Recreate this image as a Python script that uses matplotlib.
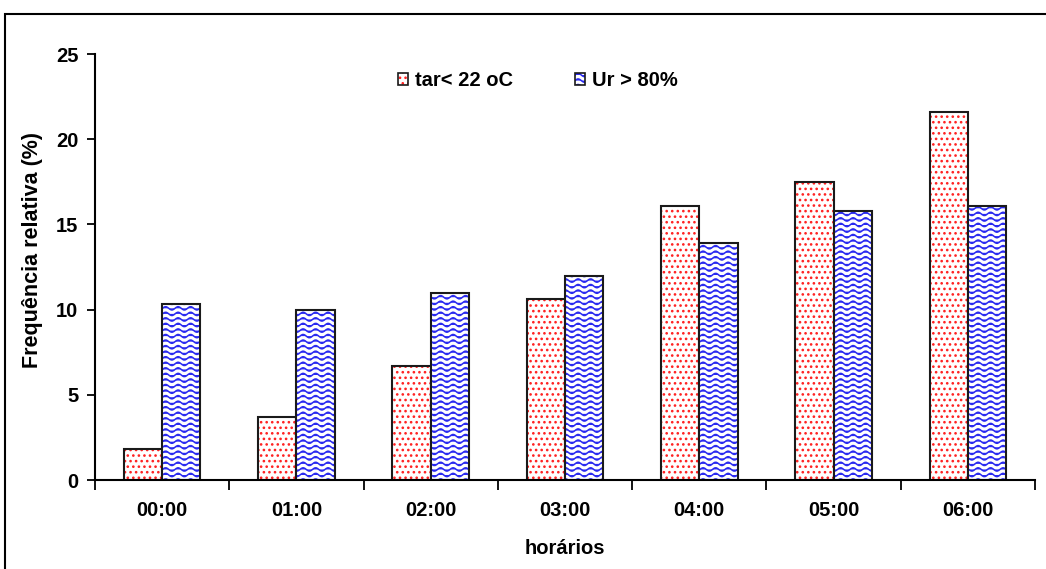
import warnings

import numpy as np
import matplotlib
matplotlib.use('Agg')
import matplotlib.pyplot as plt
import matplotlib.hatch as mhatch
from matplotlib.patches import Patch, Rectangle

# Data
horarios = ['00:00', '01:00', '02:00', '03:00', '04:00', '05:00', '06:00']
tar_abaixo_22 = [1.8, 3.7, 6.7, 10.6, 16.1, 17.5, 21.6]
ur_acima_80 = [10.3, 10.0, 11.0, 12.0, 13.9, 15.8, 16.1]
serie_labels = ['tar< 22 oC', 'Ur > 80%']


class WaveHatch(mhatch.HatchPatternBase):
    """Horizontal wavy lines, selected with '~' in the hatch string."""

    def __init__(self, hatch, density):
        self.num_rows = hatch.count('~') * density
        self.periods = 8
        self.steps = self.periods * 10
        self.num_vertices = self.num_rows * (self.steps + 1)

    def set_vertices_and_codes(self, vertices, codes):
        xs = np.linspace(0.0, 1.0, self.steps + 1)
        amp = 0.3 / self.num_rows
        n = self.steps + 1
        for i in range(self.num_rows):
            y0 = (i + 0.5) / self.num_rows
            vertices[i * n:(i + 1) * n, 0] = xs
            vertices[i * n:(i + 1) * n, 1] = y0 + amp * np.sin(2 * np.pi * self.periods * xs)
            codes[i * n] = matplotlib.path.Path.MOVETO
            codes[i * n + 1:(i + 1) * n] = matplotlib.path.Path.LINETO


mhatch._hatch_types.append(WaveHatch)
warnings.filterwarnings('ignore')

plt.rcParams['font.family'] = ['Liberation Sans', 'DejaVu Sans']
plt.rcParams['font.weight'] = 'bold'
plt.rcParams['hatch.linewidth'] = 1.1

fig = plt.figure(figsize=(10.46, 5.69), dpi=100)
ax = fig.add_axes([95 / 1046, 89 / 569, 940 / 1046, 426 / 569])

x = np.arange(len(horarios))
w = 0.285

# Hatched fills first, black outlines on top
ax.bar(x - w / 2, tar_abaixo_22, w, color='white', edgecolor='#ff2020',
       hatch='...', linewidth=0)
ax.bar(x - w / 2, tar_abaixo_22, w, fill=False, edgecolor='#1a1a1a', linewidth=1.5)
ax.bar(x + w / 2, ur_acima_80, w, color='white', edgecolor='#2a2af0',
       hatch='~~~', linewidth=0)
ax.bar(x + w / 2, ur_acima_80, w, fill=False, edgecolor='#1a1a1a', linewidth=1.5)

# Axes styling
ax.set_xlim(-0.5, len(horarios) - 0.5)
ax.set_ylim(0, 25)
ax.set_yticks(range(0, 26, 5))
ax.set_xticks(x)
ax.set_xticklabels(horarios)
ax.set_xticks(np.arange(-0.5, len(horarios), 1), minor=True)
ax.tick_params(axis='x', which='major', length=0, pad=15, labelsize=14.5)
ax.tick_params(axis='x', which='minor', length=7, width=1.3, direction='out')
ax.tick_params(axis='y', length=6, width=1.3, direction='out', pad=6, labelsize=14.5)

for side in ['top', 'right']:
    ax.spines[side].set_visible(False)
for side in ['left', 'bottom']:
    ax.spines[side].set_linewidth(1.5)

ax.set_xlabel('horários', fontsize=14.5, fontweight='bold', labelpad=14)
ax.set_ylabel('Frequência relativa (%)', fontsize=15.5, fontweight='bold')
ax.yaxis.set_label_coords(-0.055, 0.54)

# Legend
handles = [
    (Patch(facecolor='white', edgecolor='#ff2020', hatch='...', linewidth=0),
     Patch(fill=False, edgecolor='#1a1a1a', linewidth=1.2)),
    (Patch(facecolor='white', edgecolor='#2a2af0', hatch='~~~', linewidth=0),
     Patch(fill=False, edgecolor='#1a1a1a', linewidth=1.2)),
]
ax.legend(handles, serie_labels, loc='center left', bbox_to_anchor=(0.322, 0.937),
          ncol=2, frameon=False, prop={'weight': 'bold', 'size': 14.5},
          handlelength=0.5, handleheight=0.5, handletextpad=0.35,
          columnspacing=3.1, borderpad=0, borderaxespad=0)

# Outer frame around the chart
fig.add_artist(Rectangle((5 / 1046, -0.1), 1.2, (569 - 14) / 569 + 0.1,
                         transform=fig.transFigure, fill=False,
                         edgecolor='black', linewidth=1.5))

fig.savefig('out.png', dpi=100)
